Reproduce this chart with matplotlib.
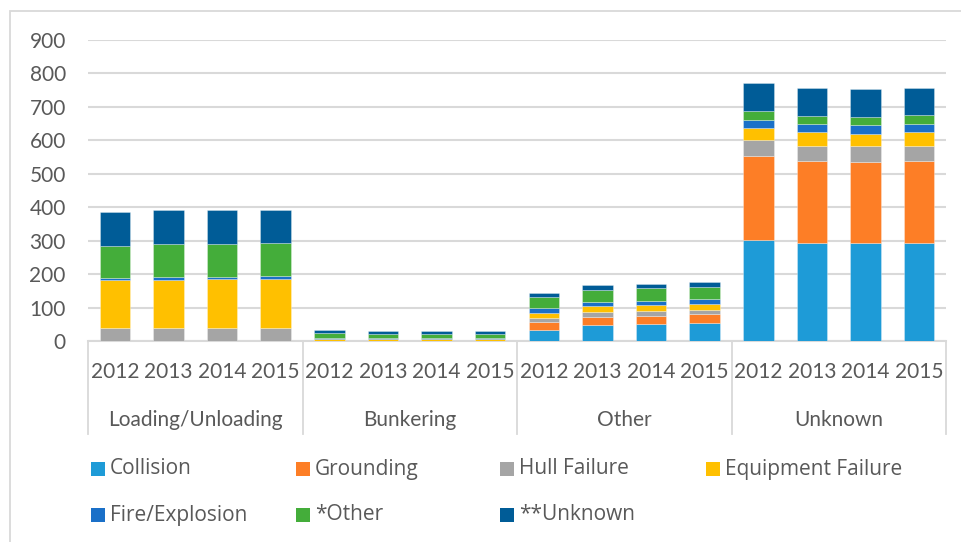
import numpy as np
import matplotlib
matplotlib.use("Agg")
import matplotlib.pyplot as plt
from matplotlib.patches import Rectangle

# ---------------------------------------------------------------------------
# Data
# ---------------------------------------------------------------------------
groups = ["Loading/Unloading", "Bunkering", "Other", "Unknown"]
years = ["2012", "2013", "2014", "2015"]

series_names = ["Collision", "Grounding", "Hull Failure", "Equipment Failure",
                "Fire/Explosion", "*Other", "**Unknown"]

collision = [0, 0, 0, 0,   0, 0, 0, 0,   33, 47, 50, 53,   303, 294, 293, 294]
grounding = [0, 0, 0, 0,   0, 0, 0, 0,   23, 26, 25, 27,   249, 245, 243, 245]
hull_failure = [40, 40, 40, 40,   1, 1, 1, 1,   12, 13, 16, 14,   48, 45, 46, 45]
equipment_failure = [142, 142, 144, 146,   6, 6, 6, 6,   17, 18, 17, 18,   38, 40, 38, 40]
fire_explosion = [6, 8, 8, 9,   1, 1, 1, 1,   13, 12, 13, 13,   24, 25, 26, 25]
other = [97, 99, 98, 98,   15, 14, 14, 14,   34, 37, 37, 36,   26, 25, 25, 28]
unknown = [102, 102, 102, 99,   9, 8, 8, 8,   13, 13, 13, 14,   82, 81, 81, 80]

colors = ["#1E9BD7", "#FD7E26", "#A5A5A5", "#FFC000",
          "#1A70C8", "#44AD3A", "#005C97"]

# ---------------------------------------------------------------------------
# Style
# ---------------------------------------------------------------------------
TEXT_COLOR = "#595959"
GRID_COLOR = "#D9D9D9"
TICK_FONT = ["Lato", "DejaVu Sans"]
LEGEND_FONT = ["Open Sans", "DejaVu Sans"]

W, H = 961, 542
fig = plt.figure(figsize=(W / 100, H / 100), dpi=100)
fig.patch.set_facecolor("white")

# outer chart frame (cropped on right/bottom like the reference)
fig.patches.append(Rectangle((10 / W, -0.1), 1.2, 1 - 11 / H + 0.1,
                             transform=fig.transFigure, fill=False,
                             edgecolor=GRID_COLOR, linewidth=1.3))

ax = fig.add_axes([88 / W, 1 - 341 / H, (946 - 88) / W, 301 / H])

all_series = [collision, grounding, hull_failure, equipment_failure,
              fire_explosion, other, unknown]
n = len(groups) * len(years)
x = np.arange(n)
bottom = np.zeros(n)
for vals, c in zip(all_series, colors):
    vals = np.array(vals, dtype=float)
    ax.bar(x, vals, width=0.57, bottom=bottom, color=c,
           edgecolor=(1, 1, 1, 0.35), linewidth=0.6, zorder=3)
    bottom += vals

ax.set_xlim(-0.5, n - 0.5)
ax.set_ylim(0, 900)
ax.set_yticks(range(0, 901, 100))
ax.yaxis.grid(True, color=GRID_COLOR, linewidth=1.5, zorder=0)
for s in ["top", "right", "left"]:
    ax.spines[s].set_visible(False)
ax.spines["bottom"].set_color(GRID_COLOR)
ax.spines["bottom"].set_linewidth(1.5)
ax.tick_params(axis="y", length=0, pad=16, labelsize=15, labelcolor=TEXT_COLOR)
for lab in ax.get_yticklabels():
    lab.set_family(TICK_FONT)

ax.set_xticks(x)
ax.set_xticklabels(years * len(groups))
ax.tick_params(axis="x", length=0, pad=15, labelsize=15, labelcolor=TEXT_COLOR)
for lab in ax.get_xticklabels():
    lab.set_family(TICK_FONT)

# group labels and separators under the axis
xt = ax.get_xaxis_transform()
for i, g in enumerate(groups):
    center = i * len(years) + (len(years) - 1) / 2
    ax.text(center, -0.262, g, transform=xt, ha="center", va="center",
            fontsize=15, color=TEXT_COLOR, family=TICK_FONT)
for i in range(len(groups) + 1):
    xs = i * len(years) - 0.5
    ax.plot([xs, xs], [0, -0.31], transform=xt, color=GRID_COLOR,
            linewidth=1.3, clip_on=False)

# legend (equal-width columns)
col_x = [91, 296, 500, 706]
row_y = [469, 515]
for k, (name, c) in enumerate(zip(series_names, colors)):
    cx = col_x[k % 4]
    cy = row_y[k // 4]
    fig.patches.append(Rectangle((cx / W, 1 - (cy + 7) / H), 14 / W, 14 / H,
                                 transform=fig.transFigure, facecolor=c,
                                 edgecolor="none"))
    fig.text((cx + 19) / W, 1 - cy / H, name, ha="left", va="center",
             fontsize=15, color=TEXT_COLOR, family=LEGEND_FONT)

fig.savefig("out.png", dpi=100, facecolor="white")
